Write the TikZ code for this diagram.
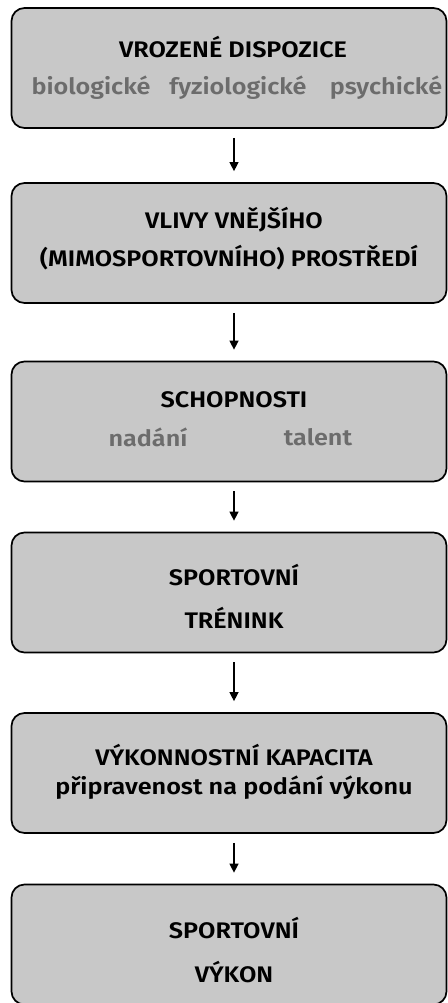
\documentclass[tikz,border=0pt]{standalone}
\usepackage{fontspec}
\setmainfont{Fira Sans}[BoldFont={Fira Sans SemiBold}, FakeStretch=1.12]
\usetikzlibrary{arrows.meta}
\definecolor{boxfill}{RGB}{200,200,200}
\definecolor{subgray}{RGB}{108,108,108}
\tikzset{
  stage/.style={draw=black, line width=1.7pt, fill=boxfill, rounded corners=13pt,
    minimum width=435pt, minimum height=120pt, inner sep=0pt},
  head/.style={font=\bfseries\fontsize{22.5}{24}\selectfont, text=black, inner sep=0pt},
  sub/.style={font=\bfseries\fontsize{22.5}{24}\selectfont, text=subgray, inner sep=0pt},
  flow/.style={line width=1.3pt, -{Triangle[width=9pt,length=9pt]},
    shorten <=9pt, shorten >=11pt}
}
\begin{document}
\begin{tikzpicture}[x=1pt,y=-1pt]
\useasboundingbox (0,0) rectangle (447,1003);
% stages, top to bottom
\node[stage] (b1) at (229,68) {};
\node[stage] (b2) at (229,243) {};
\node[stage] (b3) at (229,421.5) {};
\node[stage] (b4) at (229,592.5) {};
\node[stage] (b5) at (229,773) {};
\node[stage] (b6) at (229,944.5) {};
% labels
\node[head] (t1) at (233,47) {VROZENÉ DISPOZICE};
\node[sub] (s1a) at (91,88) {biologické};
\node[sub] (s1b) at (238,88) {fyziologické};
\node[sub] (s1c) at (386,88) {psychické};
\node[head] (t2a) at (234,220) {VLIVY VNĚJŠÍHO};
\node[head] (t2b) at (229,258) {(MIMOSPORTOVNÍHO) PROSTŘEDÍ};
\node[head] (t3) at (234,400) {SCHOPNOSTI};
\node[sub] (s3a) at (148,437) {nadání};
\node[sub] (s3b) at (318,437) {talent};
\node[head] (t4a) at (234,575) {SPORTOVNÍ};
\node[head] (t4b) at (234,618) {TRÉNINK};
\node[head] (t5a) at (234,755) {VÝKONNOSTNÍ KAPACITA};
\node[head] (t5b) at (234,788) {připravenost na podání výkonu};
\node[head] (t6a) at (234,928) {SPORTOVNÍ};
\node[head] (t6b) at (234,972) {VÝKON};
% connectors
\draw[flow] ([xshift=5pt]b1.south) -- ([xshift=5pt]b2.north);
\draw[flow] ([xshift=5pt]b2.south) -- ([xshift=5pt]b3.north);
\draw[flow] ([xshift=5pt]b3.south) -- ([xshift=5pt]b4.north);
\draw[flow] ([xshift=5pt]b4.south) -- ([xshift=5pt]b5.north);
\draw[flow] ([xshift=5pt]b5.south) -- ([xshift=5pt]b6.north);
\end{tikzpicture}
\end{document}
